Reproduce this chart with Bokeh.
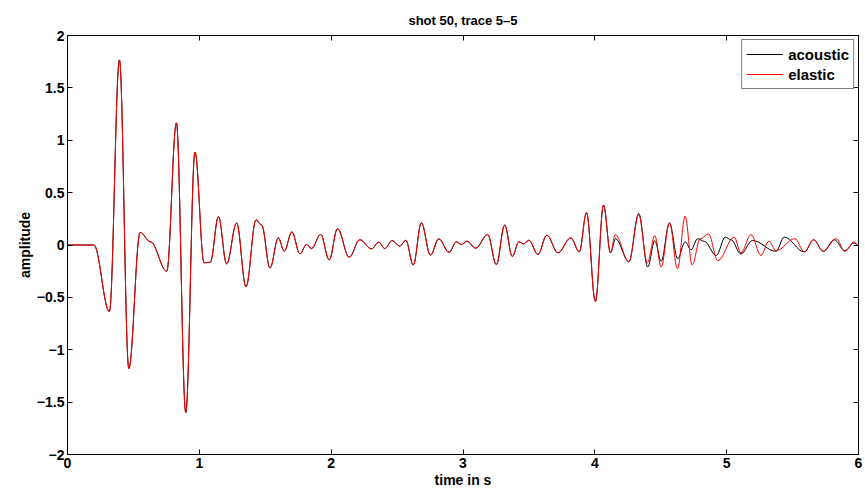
import numpy as np
from bokeh.plotting import figure
from bokeh.models import LinearAxis, FixedTicker, Legend, LegendItem, ColumnDataSource, Range1d
from bokeh.embed import file_html
from bokeh.resources import INLINE

# ---- data (extrema of the traces) ----
early_t = [0.0, 0.20, 0.318, 0.394, 0.465, 0.551, 0.63, 0.753, 0.826, 0.897, 0.967,
           1.036, 1.083, 1.145, 1.207, 1.283, 1.354, 1.430, 1.473, 1.536, 1.599,
           1.644, 1.702, 1.763, 1.813, 1.851, 1.920, 1.985, 2.048, 2.137, 2.217,
           2.306, 2.361, 2.407, 2.462, 2.520, 2.566, 2.623, 2.684, 2.753, 2.816,
           2.894, 2.950, 2.988, 3.030, 3.096, 3.187, 3.253, 3.316, 3.374, 3.424,
           3.46, 3.50, 3.568, 3.636, 3.72, 3.818, 3.882, 3.937, 4.004, 4.066, 4.119]
early_a = [0.0, 0.0, -0.636, 1.767, -1.18, 0.12, 0.03, -0.25, 1.166, -1.60, 0.888,
           -0.17, -0.165, 0.27, -0.18, 0.21, -0.40, 0.24, 0.19, -0.22, 0.068,
           -0.06, 0.126, -0.085, 0.005, -0.034, 0.10, -0.142, 0.155, -0.117, 0.05,
           -0.037, 0.027, -0.034, 0.043, -0.011, 0.045, -0.19, 0.212, -0.098, 0.059,
           -0.07, 0.03, 0.004, 0.036, -0.03, 0.10, -0.187, 0.19, -0.11, 0.03,
           0.01, 0.046, -0.09, 0.094, -0.075, 0.068, -0.065, 0.31, -0.54, 0.381, -0.075]

acoustic_tail_t = [4.157, 4.258, 4.333, 4.401, 4.455, 4.503, 4.566, 4.629, 4.685, 4.73,
                   4.78, 4.83, 4.921, 4.99, 5.033, 5.108, 5.196, 5.374, 5.437, 5.589,
                   5.659, 5.733, 5.816, 5.897, 5.967, 6.0]
acoustic_tail_a = [0.06, -0.16, 0.30, -0.21, 0.042, -0.155, 0.21, -0.13, 0.03, -0.045,
                   0.06, 0.035, -0.10, 0.075, 0.05, -0.085, 0.043, -0.06, 0.075, -0.066,
                   0.05, -0.06, 0.05, -0.054, 0.02, -0.01]

elastic_tail_t = [4.155, 4.258, 4.333, 4.398, 4.455, 4.503, 4.566, 4.627, 4.685, 4.738,
                  4.80, 4.862, 4.933, 5.057, 5.108, 5.185, 5.26, 5.32, 5.375, 5.518,
                  5.589, 5.66, 5.733, 5.83, 5.897, 5.967, 6.0]
elastic_tail_a = [0.10, -0.16, 0.29, -0.17, 0.09, -0.21, 0.21, -0.226, 0.276, -0.19,
                  0.06, 0.105, -0.15, 0.075, -0.075, 0.10, -0.10, 0.036, -0.054, 0.06,
                  -0.066, 0.05, -0.06, 0.06, -0.06, 0.03, 0.0]

series_names = ["acoustic", "elastic"]
series_colors = ["black", "red"]

x_ticks = [0, 1, 2, 3, 4, 5, 6]
y_ticks = [-2, -1.5, -1, -0.5, 0, 0.5, 1, 1.5, 2]
y_tick_labels = ["\u22122", "\u22121.5", "\u22121", "\u22120.5", "0", "0.5", "1", "1.5", "2"]

acoustic_t = early_t + acoustic_tail_t
acoustic_a = early_a + acoustic_tail_a
elastic_t = early_t + elastic_tail_t
elastic_a = early_a + elastic_tail_a


def bezier_source(t, a, k=0.364):
    t = np.asarray(t, float)
    a = np.asarray(a, float)
    x0, x1 = t[:-1], t[1:]
    y0, y1 = a[:-1], a[1:]
    dx = x1 - x0
    return ColumnDataSource(dict(x0=x0, y0=y0, x1=x1, y1=y1,
                                 cx0=x0 + k * dx, cy0=y0,
                                 cx1=x1 - k * dx, cy1=y1))


FONT = "Liberation Sans"

p = figure(width=865, height=496, output_backend="svg", toolbar_location=None,
           x_range=Range1d(0, 6), y_range=Range1d(-2, 2),
           min_border_left=67, min_border_right=7, min_border_top=35, min_border_bottom=42)
p.background_fill_color = "white"
p.border_fill_color = "white"
p.outline_line_color = "black"
p.outline_line_width = 1
p.grid.visible = False

p.title.text = "shot 50, trace 5\u20135"
p.title.align = "center"
p.title.text_font = FONT
p.title.text_font_size = "13px"
p.title.text_font_style = "bold"
p.title.text_color = "black"
p.title.offset = 0
p.title.standoff = 15

leg_items = []
for name, color, (t, a) in zip(series_names, series_colors,
                               [(acoustic_t, acoustic_a), (elastic_t, elastic_a)]):
    p.bezier(x0="x0", y0="y0", x1="x1", y1="y1", cx0="cx0", cy0="cy0", cx1="cx1", cy1="cy1",
             source=bezier_source(t, a), line_color=color, line_width=1)
    # legend swatch: same trace points, hidden in the plot (the smooth curve above is shown)
    sw = p.line(t, a, line_color=color, line_width=1, visible=False)
    leg_items.append(LegendItem(label=name, renderers=[sw]))

overrides = {}
for v, lab in zip(y_ticks, y_tick_labels):
    overrides[int(v) if float(v).is_integer() else v] = lab

for ax in p.xaxis:
    ax.ticker = FixedTicker(ticks=x_ticks)
for ax in p.yaxis:
    ax.ticker = FixedTicker(ticks=y_ticks)
    ax.major_label_overrides = overrides

p.xaxis.axis_label = "time in s"
p.yaxis.axis_label = "amplitude"
for ax in p.xaxis + p.yaxis:
    ax.major_tick_in = 5
    ax.major_tick_out = 0
    ax.minor_tick_line_color = None
    ax.axis_line_color = "black"
    ax.major_tick_line_color = "black"
    ax.major_label_text_font = FONT
    ax.major_label_text_font_size = "14px"
    ax.major_label_text_font_style = "bold"
    ax.major_label_text_color = "black"
    ax.axis_label_text_font = FONT
    ax.axis_label_text_font_size = "14px"
    ax.axis_label_text_font_style = "bold"
    ax.axis_label_text_color = "black"
    ax.major_label_standoff = 3
    ax.axis_label_standoff = 1

# mirrored ticks on top and right (no labels)
top = LinearAxis(ticker=FixedTicker(ticks=x_ticks), major_tick_in=5, major_tick_out=0,
                 minor_tick_line_color=None, major_label_text_color=None,
                 major_label_text_font_size="1px", major_label_standoff=0,
                 major_tick_line_color="black", axis_line_color="black")
right = LinearAxis(ticker=FixedTicker(ticks=y_ticks), major_tick_in=5, major_tick_out=0,
                   minor_tick_line_color=None, major_label_text_color=None,
                   major_label_text_font_size="1px", major_label_standoff=0,
                   major_tick_line_color="black", axis_line_color="black")
p.add_layout(top, "above")
p.add_layout(right, "right")

legend = Legend(items=leg_items, location="top_right")
legend.label_text_font = FONT
legend.label_text_font_size = "15px"
legend.label_text_font_style = "bold"
legend.label_text_color = "black"
legend.border_line_color = "black"
legend.border_line_width = 1
legend.inactive_fill_alpha = 0
legend.glyph_width = 37
legend.label_height = 20
legend.glyph_height = 20
legend.spacing = 0
legend.padding = 4
legend.margin = 4
legend.label_standoff = 5
p.add_layout(legend, "center")

open("out.html", "w").write(file_html(p, INLINE))
